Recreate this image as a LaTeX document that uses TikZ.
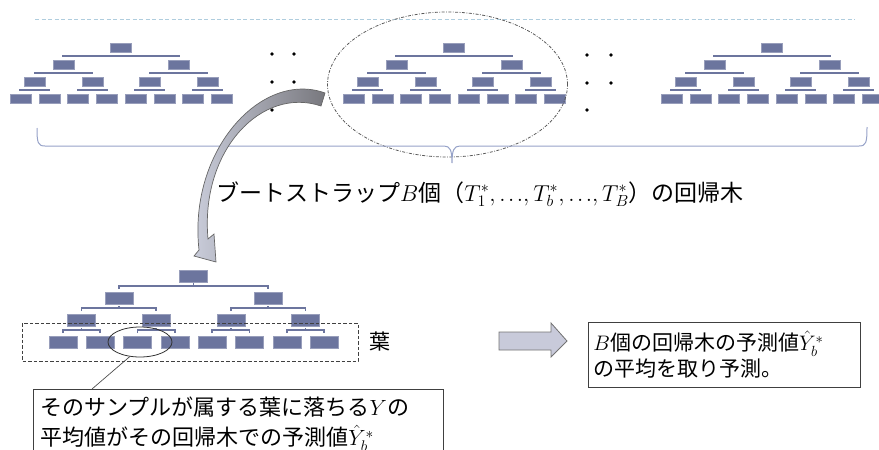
\documentclass[tikz,border=0pt]{standalone}
\usepackage{fix-cm}
\usepackage{fontspec}
\setmainfont{Noto Sans CJK JP}
\usetikzlibrary{shapes.geometric}
\definecolor{treecol}{RGB}{108,117,158}
\definecolor{bracecol}{RGB}{150,162,200}
\definecolor{toplinecol}{RGB}{175,205,222}
\definecolor{arrowlight}{RGB}{205,208,222}
\definecolor{arrowdark}{RGB}{120,120,126}
\definecolor{blockfill}{RGB}{200,202,218}
\tikzset{
  treebox/.style={fill=treecol, draw=treecol!70!white, line width=0.3pt},
  treebar/.style={fill=treecol},
  dotmark/.style={fill=black},
  txtbox/.style={draw=black!75, line width=0.8pt, align=left, anchor=north west},
}
\newcommand\smalltree[1]{%
  \foreach \i in {0,...,7} \path[treebox] ({#1-111+28.75*\i},94) rectangle ++(21,9);
  \foreach \j in {0,...,3} {
    \path[treebox] ({#1-96.625+57.5*\j},77) rectangle ++(21,9);
    \path[treebar] ({#1-86.125+57.5*\j-15.4},89) rectangle ({#1-86.125+57.5*\j+15.4},91.2);
  }
  \foreach \k in {0,1} {
    \path[treebox] ({#1-67.875+115*\k},60) rectangle ++(21,9);
    \path[treebar] ({#1-57.375+115*\k-29.8},72) rectangle ({#1-57.375+115*\k+29.8},74.2);
  }
  \path[treebox] ({#1-10.5},43) rectangle ++(21,9);
  \path[treebar] ({#1-59},55) rectangle ({#1+59},57.2);
}
\newcommand\dotsmine{\mathord{\ldotp\mkern-1mu\ldotp\mkern-1mu\ldotp}}
\begin{document}
\begin{tikzpicture}[x=1pt,y=-1pt]
\useasboundingbox (0,0) rectangle (879,450);

% top dashed line
\draw[toplinecol, line width=0.9pt, dash pattern=on 4pt off 2.5pt] (35,19) -- (855,19);

% three small trees
\smalltree{121}
\smalltree{454}
\smalltree{772}

% dots
\foreach \x/\y in {272/54,294/54,272/82,294/82,272/110,587/55,611/55,587/83,611/83,587/110}
  \fill[dotmark] (\x,\y) circle (1.8pt);

% dash-dot ellipse around middle tree
\draw[black!65, line width=0.8pt, dash pattern=on 3pt off 1.5pt on 0.8pt off 1.5pt] (447.5,84.5) ellipse (120pt and 72.5pt);

% brace
\draw[bracecol, line width=1pt] (37,128) .. controls (37,143) and (38,146) .. (45,146) -- (444,146)
  .. controls (450,146) and (452,150) .. (452,163)
  .. controls (452,150) and (454,146) .. (460,146) -- (859,146)
  .. controls (866,146) and (867,143) .. (867,127);

% caption
\node[anchor=west, inner sep=0pt, font=\fontsize{23}{28}\selectfont] (capt) at (216,194)
  {ブートストラップ$B$個（$T_1^*,\dotsmine,T_b^*,\dotsmine,T_B^*$）の回帰木};

% curved arrow
\path[draw=black!60, line width=0.7pt, left color=arrowlight, right color=arrowdark]
  (325,93) .. controls (262,70) and (188,150) .. (199,250)
  -- (194,256) -- (216,262) -- (214,234) -- (208,239)
  .. controls (200,150) and (262,86) .. (321,106) -- cycle;

% bottom tree
\foreach \i in {0,...,7} \path[treebox] ({193.5-130.67+37.333*\i-14},336) rectangle ++(28,12);
\foreach \j in {0,...,3} {
  \path[treebox] ({193.5-112+74.667*\j-14},314) rectangle ++(28,12);
  \draw[treecol, line width=1.4pt] ({193.5-112+74.667*\j-18.67},333) -- ++(0,-3) -- ++(37.33,0) -- ++(0,3);
  \draw[treecol, line width=1.4pt] ({193.5-112+74.667*\j},330) -- ++(0,-2);
}
\foreach \k in {0,1} {
  \path[treebox] ({193.5-74.67+149.33*\k-14},292) rectangle ++(28,12);
  \draw[treecol, line width=1.4pt] ({193.5-74.67+149.33*\k-37.33},311) -- ++(0,-3) -- ++(74.67,0) -- ++(0,3);
  \draw[treecol, line width=1.4pt] ({193.5-74.67+149.33*\k},308) -- ++(0,-2);
}
\path[treebox] (179.5,270) rectangle ++(28,12);
\draw[treecol, line width=1.4pt] (118.83,289) -- ++(0,-3) -- ++(149.33,0) -- ++(0,3);
\draw[treecol, line width=1.4pt] (193.5,286) -- ++(0,-3);

% leaves dashed box and label
\draw[black!75, line width=0.9pt, dash pattern=on 3.5pt off 2pt] (22,323) rectangle (358,361);
\node[font=\fontsize{21}{25}\selectfont, inner sep=0pt] (leaflabel) at (380,342) {葉};

% small ellipse on leaves
\node[draw=black!80, line width=0.8pt, ellipse, minimum width=64pt, minimum height=30pt, inner sep=0pt] (leafell) at (140,342) {};

% left text box
\node[txtbox, minimum width=410pt, minimum height=70pt, text width=396pt, inner xsep=7pt, inner ysep=2pt,
  font=\fontsize{22}{30}\selectfont] (lbox) at (33,389)
  {そのサンプルが属する葉に落ちる$Y$の\\平均値がその回帰木での予測値$\hat{Y}_b^*$};
\coordinate (lboxtop) at (92,389);
\draw[black!70, line width=0.7pt] (leafell.235) -- (lboxtop);

% block arrow
\path[draw=black!55, line width=0.8pt, fill=blockfill]
  (499,332) -- (551,332) -- (551,323) -- (567,341) -- (551,357) -- (551,350) -- (499,350) -- cycle;

% right text box
\node[txtbox, minimum width=272pt, minimum height=65pt, text width=262pt, inner xsep=5pt, inner ysep=2pt,
  font=\fontsize{21}{26}\selectfont] (rbox) at (588,322)
  {$B$個の回帰木の予測値$\hat{Y}_b^*$\\の平均を取り予測。};
\end{tikzpicture}
\end{document}
